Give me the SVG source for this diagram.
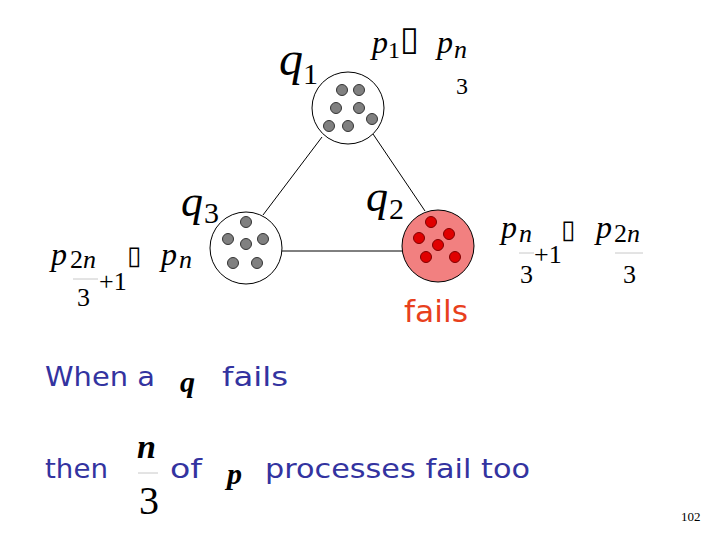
<svg xmlns="http://www.w3.org/2000/svg" width="720" height="540" viewBox="0 0 720 540">
<style>
.m{font-family:"Liberation Serif","Times New Roman",serif;font-style:italic;fill:#000}
.d{font-family:"Liberation Serif","Times New Roman",serif;fill:#000}
.bx{font-family:"DejaVu Sans",sans-serif;fill:#000}
.t{font-family:"DejaVu Sans","Noto Sans",sans-serif;fill:#3333a0}
.mb{font-family:"Liberation Serif","Times New Roman",serif;font-style:italic;font-weight:bold;fill:#000}
.bar{stroke:#c8c8c8;stroke-width:1}
.node{fill:#fff;stroke:#000;stroke-width:1}
.gd{fill:#808080;stroke:#333;stroke-width:1}
.rd{fill:#e00000;stroke:#800000;stroke-width:1}
.edge{stroke:#000;stroke-width:1;fill:none}
</style>
<rect width="720" height="540" fill="#fff"/>
<g id="connectors">
<line class="edge" x1="322" y1="137" x2="263" y2="215"/>
<line class="edge" x1="373" y1="134" x2="425" y2="211"/>
<line class="edge" x1="282" y1="251" x2="402" y2="251"/>
</g>
<g id="q1">
<circle class="node" cx="348" cy="108" r="36"/>
<circle class="gd" cx="342" cy="90" r="5.5"/>
<circle class="gd" cx="359" cy="90" r="5.5"/>
<circle class="gd" cx="336" cy="108" r="5.5"/>
<circle class="gd" cx="359" cy="108" r="5.5"/>
<circle class="gd" cx="329" cy="126" r="5.5"/>
<circle class="gd" cx="348" cy="126" r="5.5"/>
<circle class="gd" cx="372" cy="119" r="5.5"/>
<text class="m" x="279" y="75" font-size="48">q</text>
<text class="d" x="303" y="84" font-size="30">1</text>
</g>
<g id="q3">
<circle class="node" cx="246" cy="248" r="36"/>
<circle class="gd" cx="246" cy="222" r="5.5"/>
<circle class="gd" cx="228" cy="239" r="5.5"/>
<circle class="gd" cx="246" cy="244" r="5.5"/>
<circle class="gd" cx="263" cy="239" r="5.5"/>
<circle class="gd" cx="233" cy="263" r="5.5"/>
<circle class="gd" cx="257" cy="263" r="5.5"/>
<text class="m" x="181" y="216" font-size="44">q</text>
<text class="d" x="204" y="223" font-size="30">3</text>
</g>
<g id="q2">
<circle cx="438" cy="246" r="36" fill="#f28080" stroke="#000" stroke-width="1"/>
<circle class="rd" cx="431" cy="222" r="5.5"/>
<circle class="rd" cx="449" cy="234" r="5.5"/>
<circle class="rd" cx="419" cy="238" r="5.5"/>
<circle class="rd" cx="438" cy="245" r="5.5"/>
<circle class="rd" cx="426" cy="257" r="5.5"/>
<circle class="rd" cx="455" cy="257" r="5.5"/>
<text class="m" x="366" y="211" font-size="44">q</text>
<text class="d" x="389" y="219" font-size="30">2</text>
</g>
<g id="label-top">
<text class="m" x="372" y="53" font-size="32">p</text>
<text class="d" x="388" y="58" font-size="24">1</text>
<text class="bx" x="400" y="50" font-size="34">▯</text>
<text class="m" x="437" y="53" font-size="32">p</text>
<text class="m" x="454" y="58" font-size="26">n</text>
<text class="d" x="456" y="94" font-size="24">3</text>
</g>
<g id="label-right">
<text class="m" x="501" y="238" font-size="32">p</text>
<text class="m" x="519" y="242" font-size="26">n</text>
<line class="bar" x1="519" y1="253" x2="534" y2="253"/>
<text class="d" x="520" y="283" font-size="26">3</text>
<text class="d" x="534" y="263" font-size="26">+1</text>
<text class="bx" x="561" y="238" font-size="26">▯</text>
<text class="m" x="596" y="238" font-size="32">p</text>
<text class="d" x="614" y="242" font-size="26">2</text>
<text class="m" x="627" y="242" font-size="26">n</text>
<line class="bar" x1="615" y1="253" x2="643" y2="253"/>
<text class="d" x="623" y="283" font-size="26">3</text>
</g>
<g id="label-left">
<text class="m" x="51" y="265" font-size="32">p</text>
<text class="d" x="70" y="268" font-size="26">2</text>
<text class="m" x="83" y="268" font-size="26">n</text>
<line class="bar" x1="73" y1="279" x2="98" y2="279"/>
<text class="d" x="77" y="306" font-size="26">3</text>
<text class="d" x="99" y="290" font-size="26">+1</text>
<text class="bx" x="127" y="264" font-size="26">▯</text>
<text class="m" x="161" y="265" font-size="32">p</text>
<text class="m" x="179" y="268" font-size="26">n</text>
</g>
<g id="fails-label">
<text x="404" y="322" font-family="DejaVu Sans, sans-serif" font-size="30" fill="#e8401c" textLength="64" lengthAdjust="spacingAndGlyphs">fails</text>
</g>
<g id="caption">
<text class="t" x="45" y="386" font-size="27" textLength="110" lengthAdjust="spacingAndGlyphs">When a</text>
<text class="mb" x="180" y="392" font-size="30">q</text>
<text class="t" x="222" y="386" font-size="27" textLength="66" lengthAdjust="spacingAndGlyphs">fails</text>
<text class="t" x="45" y="478" font-size="27" textLength="63" lengthAdjust="spacingAndGlyphs">then</text>
<text class="mb" x="137" y="458" font-size="34">n</text>
<line class="bar" x1="138" y1="473" x2="158" y2="473"/>
<text class="d" x="139" y="514" font-size="40">3</text>
<text class="t" x="170" y="478" font-size="27" textLength="32" lengthAdjust="spacingAndGlyphs">of</text>
<text class="mb" x="227" y="484" font-size="30">p</text>
<text class="t" x="265" y="478" font-size="27" textLength="265" lengthAdjust="spacingAndGlyphs">processes fail too</text>
</g>
<text class="d" x="681" y="521" font-size="13">102</text>
</svg>
